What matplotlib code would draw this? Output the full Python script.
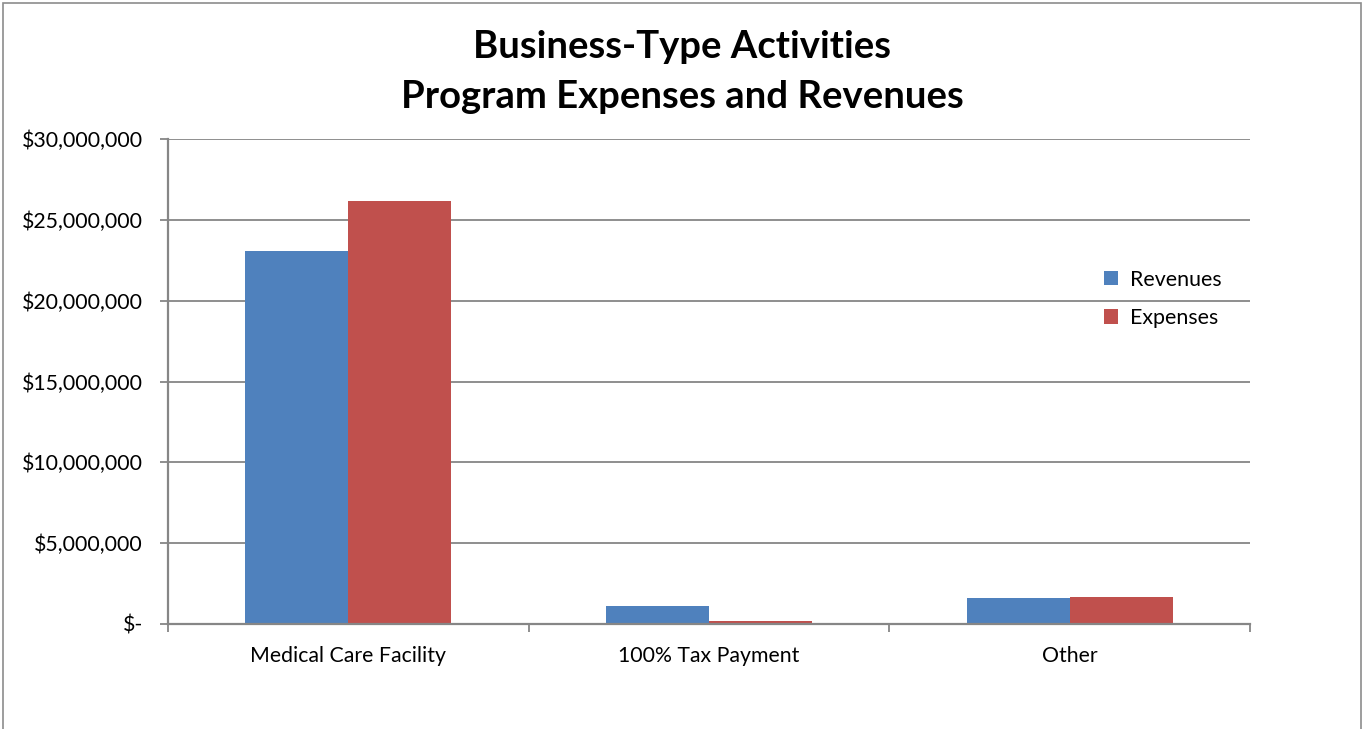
import numpy as np
import matplotlib.pyplot as plt
from matplotlib.patches import Rectangle
from matplotlib.ticker import FuncFormatter

# Data
categories = ["Medical Care Facility", "100% Tax Payment", "Other"]
revenues = [23070000, 1110000, 1610000]
expenses = [26160000, 190000, 1690000]

blue = "#4f81bd"
red = "#c0504d"
grid_col = "#868686"

plt.rcParams['font.family'] = ['Lato', 'DejaVu Sans']

fig = plt.figure(figsize=(13.64, 7.29), dpi=100)
ax = fig.add_axes([168/1364, 1 - 624/729, (1250-168)/1364, (624-139)/729])

x = np.arange(len(categories))
w = 1 / 3.5
ax.bar(x - w/2, revenues, w, color=blue, label="Revenues", edgecolor="none")
ax.bar(x + w/2, expenses, w, color=red, label="Expenses", edgecolor="none")

ax.set_xlim(-0.5, len(categories) - 0.5)
ax.set_ylim(0, 30000000)
ax.set_yticks(np.arange(0, 30000001, 5000000))

def money(v, pos):
    if v == 0:
        return "$-"
    return "${:,.0f}".format(v)

ax.yaxis.set_major_formatter(FuncFormatter(money))
ax.yaxis.grid(True, color=grid_col, linewidth=1.3)
ax.set_axisbelow(True)

ax.set_xticks(x)
ax.set_xticklabels(categories)
ax.set_xticks(np.arange(-0.5, len(categories)), minor=True)
ax.tick_params(axis='x', which='major', length=0, pad=16, labelsize=15.3)
ax.tick_params(axis='x', which='minor', length=6, color=grid_col, width=1.3)
ax.tick_params(axis='y', length=6, color=grid_col, width=1.3, labelsize=15.3, pad=12)

for s in ["top", "right"]:
    ax.spines[s].set_visible(False)
for s in ["left", "bottom"]:
    ax.spines[s].set_color(grid_col)
    ax.spines[s].set_linewidth(1.6)

ax.legend(loc="upper left", bbox_to_anchor=(0.847, 0.77), frameon=False,
          fontsize=15.4, handlelength=0.65, handleheight=0.65, labelspacing=0.85,
          handletextpad=0.6)

fig.text(0.5, 1 - 72/729, "Business-Type Activities\nProgram Expenses and Revenues",
         ha="center", va="center", fontsize=27.5, fontweight="bold", linespacing=1.55)

fig.patches.append(Rectangle((3/1364, -0.05), 1358/1364, 1.05 - 3/729, transform=fig.transFigure,
                             fill=False, edgecolor="#8c8c8c", linewidth=1.2))

fig.savefig("out.png", dpi=100)
